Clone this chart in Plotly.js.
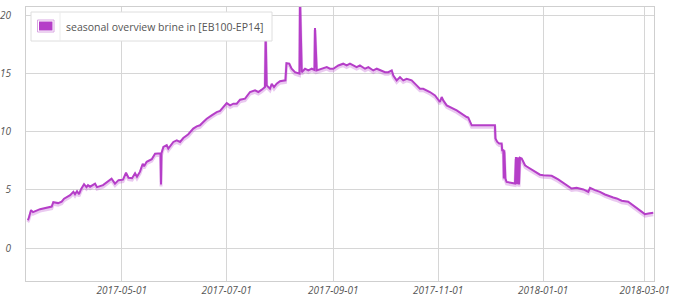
<!DOCTYPE html>
<html>
<head>
<meta charset="utf-8">
<script src="https://cdn.plot.ly/plotly-3.0.1.min.js"></script>
<style>html,body{margin:0;padding:0;background:#fff}#chart{width:680px;height:300px}</style>
</head>
<body>
<div id="chart"></div>
<script>
// ---- data ----
var seriesName = "seasonal overview brine in [EB100-EP14]";
var dates = [
"2017-03-07 08:00","2017-03-07 19:00","2017-03-09 06:00","2017-03-10 10:00","2017-03-14 12:00",
"2017-03-21 07:00","2017-03-22 05:00","2017-03-25 00:00","2017-03-27 02:00","2017-03-28 11:00",
"2017-04-01 00:00","2017-04-02 21:00","2017-04-03 20:00","2017-04-05 00:00","2017-04-06 04:00",
"2017-04-07 08:00","2017-04-09 02:00","2017-04-10 12:00","2017-04-11 09:00","2017-04-12 14:00",
"2017-04-15 12:00","2017-04-16 15:00","2017-04-20 03:00","2017-04-25 02:00","2017-04-27 02:00",
"2017-04-29 03:00","2017-05-01 18:00","2017-05-03 12:00","2017-05-04 23:00","2017-05-07 00:00",
"2017-05-08 18:00","2017-05-09 21:00","2017-05-11 15:00","2017-05-13 05:00","2017-05-14 00:00",
"2017-05-15 12:00","2017-05-18 11:00","2017-05-20 09:00","2017-05-23 13:00","2017-05-23 20:00",
"2017-05-24 03:00","2017-05-25 05:00","2017-05-27 04:00","2017-05-28 02:00","2017-05-31 00:00",
"2017-06-02 00:00","2017-06-03 22:00","2017-06-05 19:00","2017-06-08 17:00","2017-06-11 14:00",
"2017-06-13 14:00","2017-06-15 12:00","2017-06-17 10:00","2017-06-19 10:00","2017-06-22 07:00",
"2017-06-25 05:00","2017-06-27 04:00","2017-06-29 02:00","2017-07-01 01:00","2017-07-03 00:00",
"2017-07-04 22:00","2017-07-06 21:00","2017-07-08 19:00","2017-07-11 17:00","2017-07-14 14:00",
"2017-07-17 12:00","2017-07-19 10:00","2017-07-21 10:00","2017-07-23 07:00","2017-07-23 17:00",
"2017-07-24 07:00","2017-07-26 05:00","2017-07-27 05:00","2017-07-28 13:00","2017-07-30 02:00",
"2017-08-01 00:00","2017-08-04 05:00","2017-08-04 19:00","2017-08-06 10:00","2017-08-07 19:00",
"2017-08-09 18:00","2017-08-12 09:00","2017-08-12 16:00","2017-08-13 16:00","2017-08-15 14:00",
"2017-08-17 12:00","2017-08-19 12:00","2017-08-21 02:00","2017-08-21 09:00","2017-08-22 09:00",
"2017-08-25 07:00","2017-08-28 05:00","2017-08-30 03:00","2017-09-01 00:00","2017-09-03 22:00",
"2017-09-06 19:00","2017-09-08 19:00","2017-09-10 17:00","2017-09-12 16:00","2017-09-14 14:00",
"2017-09-16 12:00","2017-09-19 11:00","2017-09-21 10:00","2017-09-24 07:00","2017-09-26 07:00",
"2017-09-29 05:00","2017-10-01 03:00","2017-10-03 00:00","2017-10-05 00:00","2017-10-05 22:00",
"2017-10-07 21:00","2017-10-09 19:00","2017-10-11 17:00","2017-10-13 17:00","2017-10-16 14:00",
"2017-10-19 12:00","2017-10-21 10:00","2017-10-23 08:00","2017-10-25 07:00","2017-10-27 05:00",
"2017-10-30 04:00","2017-11-01 02:00","2017-11-02 01:00","2017-11-03 01:00","2017-11-03 23:00",
"2017-11-05 23:00","2017-11-11 19:00","2017-11-17 14:00","2017-11-18 12:00","2017-11-20 12:00",
"2017-12-04 00:00","2017-12-04 07:00","2017-12-05 09:00","2017-12-06 12:00","2017-12-07 22:00",
"2017-12-08 05:00","2017-12-08 21:00","2017-12-09 04:00","2017-12-09 11:00","2017-12-10 02:00",
"2017-12-10 19:00","2017-12-15 16:00","2017-12-16 05:00","2017-12-16 19:00","2017-12-17 09:00",
"2017-12-18 00:00","2017-12-18 14:00","2017-12-19 14:00","2017-12-21 12:00","2017-12-22 12:00",
"2017-12-30 05:00","2018-01-01 05:00","2018-01-06 00:00","2018-01-09 19:00","2018-01-14 17:00",
"2018-01-17 14:00","2018-01-20 12:00","2018-01-24 10:00","2018-01-27 07:00","2018-01-28 07:00",
"2018-01-31 05:00","2018-02-03 02:00","2018-02-06 00:00","2018-02-08 22:00","2018-02-10 19:00",
"2018-02-12 19:00","2018-02-15 17:00","2018-02-19 12:00","2018-02-23 10:00","2018-02-26 07:00",
"2018-03-01 05:00","2018-03-03 05:00","2018-03-06 02:00"
];
var brineIn = [
2.4,2.5,3.26,3.08,3.34,
3.56,3.94,3.86,3.98,4.24,
4.54,4.83,4.63,4.88,4.63,
5.06,5.48,5.23,5.4,5.27,
5.53,5.23,5.4,5.96,5.53,
5.83,5.87,6.47,6.04,6.0,
6.43,6.13,6.56,7.24,7.03,
7.41,7.63,8.1,8.14,5.46,
8.14,8.68,8.83,8.54,9.11,
9.25,9.11,9.45,9.77,10.26,
10.45,10.54,10.82,11.11,11.4,
11.68,11.77,12.1,12.45,12.25,
12.4,12.4,12.74,12.83,13.4,
13.54,13.4,13.6,13.82,18.3,
13.97,13.68,14.1,13.82,14.11,
14.33,14.4,15.88,15.83,15.4,
15.1,14.97,21.5,15.1,15.4,
15.25,15.4,15.3,18.9,15.25,
15.4,15.54,15.4,15.4,15.68,
15.83,15.68,15.83,15.68,15.54,
15.68,15.4,15.54,15.25,15.4,
15.25,15.1,15.1,15.25,14.82,
14.4,14.68,14.4,14.54,14.4,
13.97,13.68,13.68,13.54,13.4,
13.11,12.68,12.54,12.97,12.68,
12.25,11.82,11.25,11.2,10.54,
10.54,9.4,9.11,8.97,8.97,
8.4,8.4,5.97,8.4,5.97,
5.68,5.54,7.82,5.48,7.8,
5.45,7.75,7.68,7.11,7.0,
6.3,6.25,6.2,5.89,5.4,
5.11,5.17,5.03,4.83,5.17,
4.97,4.83,4.6,4.4,4.34,
4.26,4.06,3.97,3.54,3.2,
2.91,2.97,3.03
];
var xRange = ["2017-03-06 08:00", "2018-03-06 12:00"];
var yRange = [-2.83, 20.7];
var yTicks = [0, 5, 10, 15, 20];

// ---- layout helpers ----
var W = 680, H = 300, ML = 26, MR = 26, MT = 7, MB = 19;
var PW = W - ML - MR, PH = H - MT - MB;
function px(x){ return (x - ML) / PW; }
function py(y){ return (H - MB - y) / PH; }
var purple = "#b53ec8";
var shadowShift = 2 * (yRange[1] - yRange[0]) / PH;

var tickFont = {family: "Open Sans, sans-serif", size: 10, color: "#555", style: "italic"};

var traces = [
  // anchors the base axes so their grid and labels are drawn
  {x: [xRange[0]], y: [null], type: "scatter", mode: "lines", yaxis: "y",
   hoverinfo: "skip", showlegend: false},
  {x: dates, y: brineIn, type: "scatter", mode: "lines", yaxis: "y2",
   line: {color: "rgba(181,62,200,0.28)", width: 3}, hoverinfo: "skip", showlegend: false},
  {x: dates, y: brineIn, type: "scatter", mode: "lines", yaxis: "y3", name: seriesName,
   line: {color: purple, width: 2}, showlegend: false}
];

var layout = {
  width: W, height: H,
  margin: {l: ML, r: MR, t: MT, b: MB, pad: 0},
  paper_bgcolor: "#fff", plot_bgcolor: "#fff",
  showlegend: false,
  xaxis: {type: "date", range: xRange, tick0: "2017-01-01", dtick: "M2", tickformat: "%Y-%m-%d",
          showgrid: true, gridcolor: "#d6d6d6", gridwidth: 1, zeroline: false,
          showline: true, linecolor: "#cfcfcf", linewidth: 1, mirror: true,
          ticks: "", ticklabelstandoff: 0, tickfont: tickFont, fixedrange: true},
  yaxis: {range: yRange, tickmode: "array", tickvals: yTicks, ticktext: yTicks.map(String),
          showgrid: true, gridcolor: "#d6d6d6", gridwidth: 1, zeroline: false,
          showline: true, linecolor: "#cfcfcf", linewidth: 1, mirror: true,
          ticks: "", ticklabelstandoff: 12, tickfont: tickFont, fixedrange: true},
  yaxis2: {overlaying: "y", range: [yRange[0] + shadowShift, yRange[1] + shadowShift],
           visible: false, fixedrange: true},
  yaxis3: {overlaying: "y", range: yRange, visible: false, fixedrange: true},
  shapes: [
    {type: "rect", xref: "paper", yref: "paper", layer: "above",
     x0: px(31), x1: px(272), y0: py(41), y1: py(12),
     fillcolor: "#ffffff", line: {color: "#dedede", width: 1}},
    {type: "line", xref: "paper", yref: "paper", layer: "above",
     x0: px(60), x1: px(60), y0: py(41), y1: py(12), line: {color: "#ececec", width: 1}},
    {type: "rect", xref: "paper", yref: "paper", layer: "above",
     x0: px(37.5), x1: px(54), y0: py(32), y1: py(20),
     fillcolor: "#fff", line: {color: "#d9a6e2", width: 1}},
    {type: "rect", xref: "paper", yref: "paper", layer: "above",
     x0: px(39), x1: px(52.5), y0: py(30.5), y1: py(21.5),
     fillcolor: purple, line: {width: 0}}
  ],
  annotations: [
    {xref: "paper", yref: "paper", x: px(65), y: py(27), xanchor: "left", yanchor: "middle",
     text: seriesName, showarrow: false, borderpad: 0,
     font: {family: "Open Sans, sans-serif", size: 10.5, color: "#555"}}
  ]
};

Plotly.newPlot("chart", traces, layout, {displayModeBar: false, staticPlot: true});
</script>
</body>
</html>
